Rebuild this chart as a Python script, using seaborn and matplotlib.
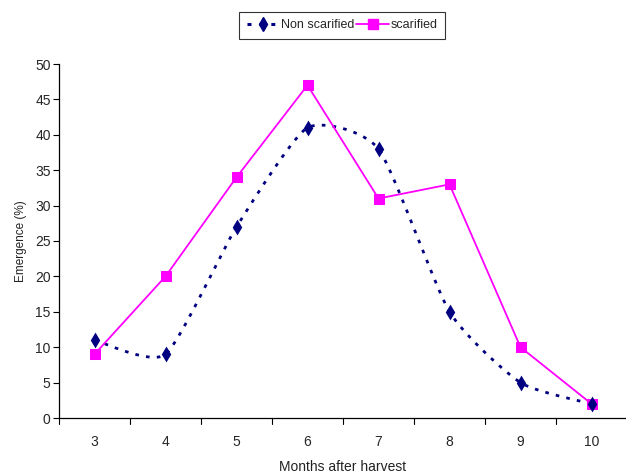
import numpy as np
import pandas as pd
import matplotlib
matplotlib.use("Agg")
import matplotlib.pyplot as plt
import seaborn as sns
from matplotlib.lines import Line2D

months = [3, 4, 5, 6, 7, 8, 9, 10]
non_scarified = [11, 9, 27, 41, 38, 15, 5, 2]
scarified = [9, 20, 34, 47, 31, 33, 10, 2]
y_ticks = [0, 5, 10, 15, 20, 25, 30, 35, 40, 45, 50]

sns.set_theme(style="white")
plt.rcParams['font.family'] = ['Liberation Sans', 'DejaVu Sans']

NAVY = "#000080"
MAG = "#FF00FF"


def smooth_curve(x, y, n=30, k=0.5):
    # Bezier smoothing through the points (reduced-tension Catmull-Rom)
    x = np.asarray(x, float)
    y = np.asarray(y, float)
    px = np.concatenate([[x[0]], x, [x[-1]]])
    py = np.concatenate([[y[0]], y, [y[-1]]])
    xs, ys = [], []
    t = np.linspace(0, 1, n, endpoint=False)
    for i in range(1, len(px) - 2):
        for arr, out in ((px, xs), (py, ys)):
            p0, p1, p2, p3 = arr[i - 1], arr[i], arr[i + 1], arr[i + 2]
            c1 = p1 + k * (p2 - p0) / 6
            c2 = p2 - k * (p3 - p1) / 6
            out.extend((1 - t) ** 3 * p1 + 3 * (1 - t) ** 2 * t * c1
                       + 3 * (1 - t) * t ** 2 * c2 + t ** 3 * p2)
    xs.append(x[-1])
    ys.append(y[-1])
    return np.array(xs), np.array(ys)


fig = plt.figure(figsize=(6.26, 4.76), dpi=100)
ax = fig.add_axes([59 / 626, (476 - 418) / 476, 568 / 626, (418 - 64) / 476])

df = pd.DataFrame({"month": months, "non": non_scarified, "sc": scarified})
sx, sy = smooth_curve(months, non_scarified, k=0.6)
smooth = pd.DataFrame({"month": sx, "non": sy})

sns.lineplot(data=smooth, x="month", y="non", ax=ax, color=NAVY, lw=2.0,
             linestyle=(0, (1.3, 2.6)), sort=False, estimator=None)
sns.scatterplot(data=df, x="month", y="non", ax=ax, color=NAVY, marker="d",
                s=65, edgecolor=NAVY, linewidth=0, zorder=5)
sns.lineplot(data=df, x="month", y="sc", ax=ax, color=MAG, lw=1.3,
             marker="s", markersize=7, markeredgecolor=MAG, zorder=4,
             estimator=None)

ax.set_xlim(2.5, 10.5)
ax.set_ylim(0, 50)
ax.set_yticks(y_ticks)
ax.set_yticklabels([str(v) for v in y_ticks], fontsize=10)
ax.set_xticks(months)
ax.set_xticklabels([str(m) for m in months], fontsize=10)
ax.tick_params(axis="x", length=0, pad=12)
ax.tick_params(axis="y", length=4, width=0.8, color="black", direction="out", left=True, pad=2)
# category boundary ticks
for b in np.arange(2.5, 10.6, 1.0):
    ax.plot([b, b], [0, -0.8], color="black", lw=0.8, clip_on=False)

for s in ["top", "right"]:
    ax.spines[s].set_visible(False)
for s in ["left", "bottom"]:
    ax.spines[s].set_color("black")
    ax.spines[s].set_linewidth(0.9)

ax.set_xlabel("Months after harvest", fontsize=10, labelpad=8, color="#222222")
ax.set_ylabel("Emergence (%)", fontsize=8.5, labelpad=6, color="#222222")

handles = [
    Line2D([], [], color=NAVY, lw=2.2, linestyle=(0, (1.3, 2.6)), marker="d",
           markersize=7.5, markeredgecolor=NAVY),
    Line2D([], [], color=MAG, lw=1.3, marker="s", markersize=6.5,
           markeredgecolor=MAG),
]
leg = fig.legend(handles, ["Non scarified", "scarified"], loc="center",
                 bbox_to_anchor=(342 / 626, 1 - 25 / 476), ncol=2,
                 frameon=True, fancybox=False, handlelength=2.6,
                 handletextpad=0.1, columnspacing=0.2, borderpad=0.6,
                 borderaxespad=0, edgecolor="black",
                 prop={"family": ["Liberation Sans Narrow", "Liberation Sans", "DejaVu Sans"],
                       "size": 9, "stretch": "condensed"})
leg.get_frame().set_linewidth(0.8)
leg.get_frame().set_facecolor("white")

fig.savefig("out.png", dpi=100)
